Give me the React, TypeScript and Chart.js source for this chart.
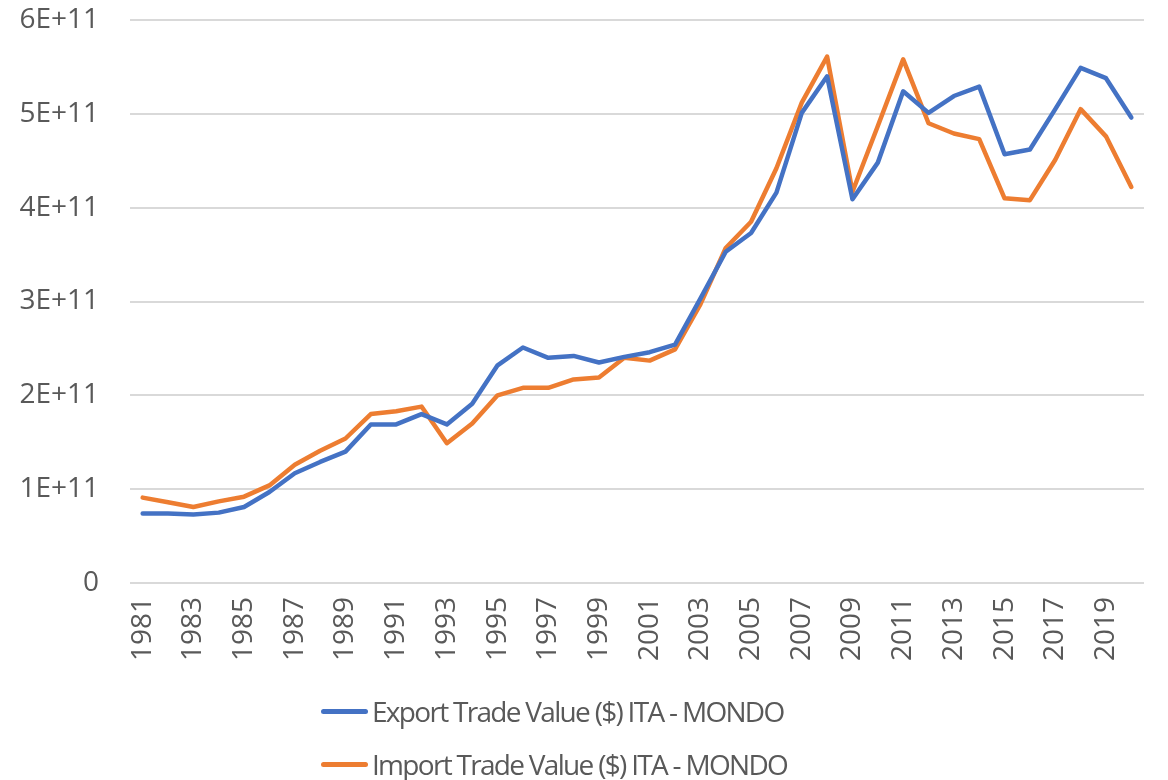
import React, { useEffect, useRef } from "react";
import { Chart, registerables } from "chart.js";

Chart.register(...registerables);

const years: string[] = [
  "1981","1982","1983","1984","1985","1986","1987","1988","1989","1990",
  "1991","1992","1993","1994","1995","1996","1997","1998","1999","2000",
  "2001","2002","2003","2004","2005","2006","2007","2008","2009","2010",
  "2011","2012","2013","2014","2015","2016","2017","2018","2019","2020",
];

const exportValues: number[] = [
  0.74e11, 0.74e11, 0.73e11, 0.75e11, 0.81e11, 0.97e11, 1.17e11, 1.29e11, 1.40e11, 1.69e11,
  1.69e11, 1.80e11, 1.69e11, 1.91e11, 2.32e11, 2.51e11, 2.40e11, 2.42e11, 2.35e11, 2.41e11,
  2.46e11, 2.54e11, 3.03e11, 3.53e11, 3.73e11, 4.16e11, 5.01e11, 5.40e11, 4.09e11, 4.48e11,
  5.24e11, 5.01e11, 5.19e11, 5.29e11, 4.57e11, 4.62e11, 5.05e11, 5.49e11, 5.38e11, 4.96e11,
];

const importValues: number[] = [
  0.91e11, 0.86e11, 0.81e11, 0.87e11, 0.92e11, 1.04e11, 1.26e11, 1.41e11, 1.54e11, 1.80e11,
  1.83e11, 1.88e11, 1.49e11, 1.70e11, 2.00e11, 2.08e11, 2.08e11, 2.17e11, 2.19e11, 2.40e11,
  2.37e11, 2.49e11, 2.97e11, 3.57e11, 3.85e11, 4.42e11, 5.12e11, 5.61e11, 4.17e11, 4.87e11,
  5.58e11, 4.90e11, 4.79e11, 4.73e11, 4.10e11, 4.08e11, 4.51e11, 5.05e11, 4.76e11, 4.22e11,
];

const seriesNames: string[] = [
  "Export Trade Value ($) ITA - MONDO",
  "Import Trade Value ($) ITA - MONDO",
];
const seriesColors: string[] = ["#4472C4", "#ED7D31"];

const FONT = "'Open Sans', sans-serif";
const TEXT_COLOR = "#595959";

export default function App() {
  const canvasRef = useRef<HTMLCanvasElement | null>(null);

  useEffect(() => {
    if (!canvasRef.current) return;
    const chart = new Chart(canvasRef.current, {
      type: "line",
      data: {
        labels: years,
        datasets: [
          {
            label: seriesNames[0],
            data: exportValues,
            borderColor: seriesColors[0],
            backgroundColor: seriesColors[0],
            borderWidth: 4.5,
            pointRadius: 0,
            tension: 0,
            borderJoinStyle: "round",
            borderCapStyle: "round",
          },
          {
            label: seriesNames[1],
            data: importValues,
            borderColor: seriesColors[1],
            backgroundColor: seriesColors[1],
            borderWidth: 4.5,
            pointRadius: 0,
            tension: 0,
            borderJoinStyle: "round",
            borderCapStyle: "round",
          },
        ],
      },
      options: {
        responsive: false,
        animation: false,
        layout: { padding: { left: 0, right: 24, top: 20, bottom: 0 } },
        plugins: {
          legend: { display: false },
          tooltip: { enabled: false },
        },
        scales: {
          x: {
            offset: true,
            grid: { display: false, drawTicks: false },
            border: { display: false },
            ticks: {
              autoSkip: false,
              minRotation: 90,
              maxRotation: 90,
              padding: 14,
              color: TEXT_COLOR,
              font: { family: FONT, size: 28 },
              callback: (_v: any, i: number) => (i % 2 === 0 ? years[i] : ""),
            },
            afterFit: (scale: any) => {
              scale.height = 117;
              scale.paddingLeft = 0;
              scale.paddingRight = 0;
            },
          },
          y: {
            min: 0,
            max: 6e11,
            grid: { color: "#d9d9d9", lineWidth: 2, drawTicks: false },
            border: { display: false },
            ticks: {
              stepSize: 1e11,
              padding: 31,
              color: TEXT_COLOR,
              font: { family: FONT, size: 28 },
              callback: (v: any) => (v === 0 ? "0" : `${Math.round(v / 1e11)}E+11`),
            },
            afterFit: (scale: any) => {
              scale.width = 130;
              scale.paddingTop = 0;
              scale.paddingBottom = 0;
            },
          },
        },
      },
    });
    return () => chart.destroy();
  }, []);

  return (
    <div
      style={{
        position: "absolute",
        left: 0,
        top: 0,
        width: 1168,
        height: 780,
        background: "#ffffff",
        overflow: "hidden",
      }}
    >
      <canvas
        ref={canvasRef}
        width={1168}
        height={700}
        style={{ position: "absolute", left: 0, top: 0, width: 1168, height: 700 }}
      />
      {seriesNames.map((name, i) => (
        <div
          key={name}
          style={{
            position: "absolute",
            left: 321,
            top: 711 + i * 53 - 18,
            height: 36,
            display: "flex",
            alignItems: "center",
            whiteSpace: "nowrap",
          }}
        >
          <span
            style={{
              display: "inline-block",
              width: 47,
              height: 5,
              borderRadius: 3,
              background: seriesColors[i],
            }}
          />
          <span
            style={{
              marginLeft: 4,
              fontFamily: FONT,
              fontSize: 28,
              letterSpacing: "-1.7px",
              lineHeight: "36px",
              color: TEXT_COLOR,
            }}
          >
            {name}
          </span>
        </div>
      ))}
    </div>
  );
}
